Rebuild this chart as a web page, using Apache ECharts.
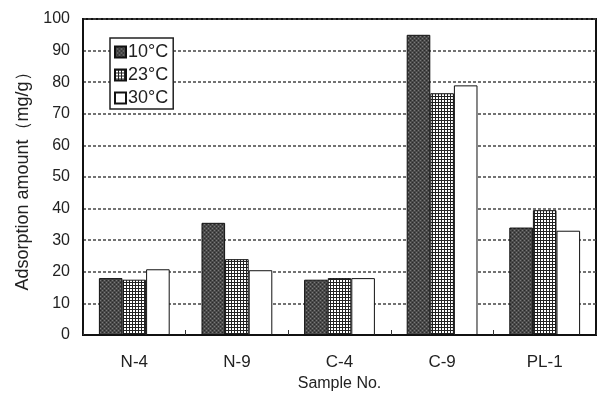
<!DOCTYPE html>
<html><head><meta charset="utf-8">
<script src="https://cdn.jsdelivr.net/npm/echarts@6/dist/echarts.min.js"></script>
<style>html,body{margin:0;padding:0;background:#fff}#c{width:600px;height:393px}</style>
</head><body><div id="c"></div>
<script>
const categories = ['N-4', 'N-9', 'C-4', 'C-9', 'PL-1'];
const seriesNames = ['10\u00b0C', '23\u00b0C', '30\u00b0C'];
const values10 = [18, 35.5, 17.5, 95, 34];
const values23 = [17.5, 24, 18, 76.5, 39.5];
const values30 = [20.8, 20.5, 18, 79, 33];
const yTicks = [0, 10, 20, 30, 40, 50, 60, 70, 80, 90, 100];

function stipple() {
  const c = document.createElement('canvas'); c.width = 4; c.height = 4;
  const g = c.getContext('2d');
  g.fillStyle = '#4a4a4a'; g.fillRect(0, 0, 4, 4);
  g.fillStyle = '#7a7a7a'; g.fillRect(0, 0, 1, 1); g.fillRect(2, 2, 1, 1);
  g.fillStyle = '#2a2a2a'; g.fillRect(2, 0, 1, 1); g.fillRect(0, 2, 1, 1);
  return c;
}
function gridPat() {
  const c = document.createElement('canvas'); c.width = 3; c.height = 3;
  const g = c.getContext('2d');
  g.fillStyle = '#ffffff'; g.fillRect(0, 0, 3, 3);
  g.fillStyle = '#222222'; g.fillRect(0, 0, 3, 1); g.fillRect(0, 0, 1, 3);
  return c;
}
const fills = [
  { image: stipple(), repeat: 'repeat' },
  { image: gridPat(), repeat: 'repeat' },
  '#ffffff'
];
const dataSets = [values10, values23, values30];
const font = 'Liberation Sans, Arial, sans-serif';

const chart = echarts.init(document.getElementById('c'), null, { renderer: 'canvas' });
chart.setOption({
  animation: false,
  backgroundColor: '#fff',
  grid: { left: 83, right: 4, top: 19, bottom: 58, outerBoundsMode: 'none', containLabel: false,
          show: true, borderColor: '#111', borderWidth: 2, backgroundColor: 'transparent' },
  legend: {
    data: seriesNames,
    orient: 'vertical', left: 110, top: 38,
    itemWidth: 11, itemHeight: 11, itemGap: 5,
    padding: [5, 5, 2, 4],
    borderColor: '#222', borderWidth: 1.5, backgroundColor: '#fff',
    textStyle: { fontFamily: font, fontSize: 18, color: '#222', padding: [0, 0, 0, -3] },
    icon: 'rect'
  },
  xAxis: {
    type: 'category', data: categories,
    name: 'Sample No.', nameLocation: 'middle', nameGap: 40,
    nameTextStyle: { fontFamily: font, fontSize: 16, color: '#222' },
    axisLine: { lineStyle: { color: '#111', width: 2 } },
    axisTick: { show: true, inside: true, length: 5, lineStyle: { color: '#333' } },
    axisLabel: { fontFamily: font, fontSize: 17, color: '#222', margin: 19 }
  },
  yAxis: {
    type: 'value', min: yTicks[0], max: yTicks[yTicks.length - 1], interval: 10,
    name: 'Adsorption amount\uff08mg/g\uff09', nameLocation: 'middle', nameGap: 50,
    nameTextStyle: { fontFamily: font, fontSize: 18, color: '#222' },
    axisLine: { show: true, lineStyle: { color: '#111', width: 2 } },
    axisTick: { show: false },
    axisLabel: { fontFamily: font, fontSize: 16, color: '#222', margin: 13 },
    splitLine: { show: true, lineStyle: { color: '#444', type: [3, 2], width: 1.5 } }
  },
  series: seriesNames.map((n, i) => ({
    name: n, type: 'bar', data: dataSets[i],
    barGap: '0%', barCategoryGap: '31%',
    itemStyle: { color: fills[i], borderColor: '#111', borderWidth: 1 }
  }))
});
</script></body></html>
